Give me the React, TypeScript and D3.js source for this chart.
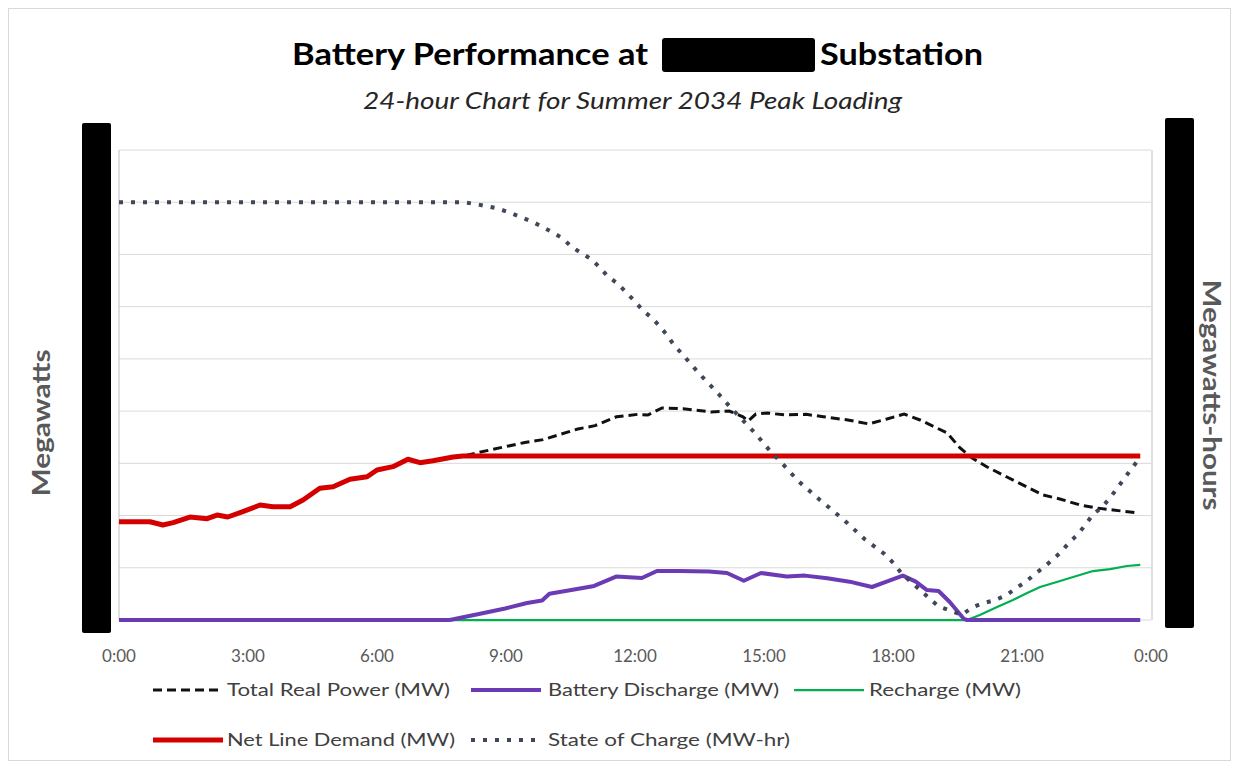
import React from 'react';
import * as d3 from 'd3';

// ---------- data ----------
const hourTicks = [0, 3, 6, 9, 12, 15, 18, 21, 24];
const hourTickLabels = ['0:00', '3:00', '6:00', '9:00', '12:00', '15:00', '18:00', '21:00', '0:00'];
const mwGridTicks = [0, 5, 10, 15, 20, 25, 30, 35, 40, 45];

// [hour, MW]
const totalRealPower: [number, number][] = [
  [0, 9.41], [0.72, 9.41], [1.02, 9.1], [1.26, 9.32], [1.65, 9.86], [2.05, 9.7], [2.28, 10.05],
  [2.53, 9.86], [2.88, 10.37], [3.28, 11.01], [3.58, 10.85], [3.98, 10.85], [4.28, 11.49],
  [4.67, 12.61], [4.98, 12.76], [5.37, 13.47], [5.77, 13.72], [6.0, 14.36], [6.37, 14.68],
  [6.72, 15.39], [7.0, 15.06], [7.3, 15.25], [7.77, 15.6], [8.0, 15.7], [8.63, 16.28],
  [9.44, 17.0], [9.86, 17.27], [10.26, 17.77], [10.67, 18.29], [11.07, 18.61], [11.57, 19.46],
  [12.06, 19.69], [12.3, 19.63], [12.63, 20.3], [13.12, 20.22], [13.77, 19.92], [14.19, 20.01],
  [14.51, 19.46], [14.63, 19.05], [14.81, 19.72], [15.07, 19.82], [15.49, 19.63], [15.98, 19.69],
  [16.38, 19.46], [16.95, 19.15], [17.44, 18.77], [17.86, 19.25], [18.26, 19.72], [18.63, 19.15],
  [19.02, 18.38], [19.26, 17.9], [19.56, 16.47], [19.84, 15.51], [20.19, 14.65], [20.65, 13.69],
  [21.12, 12.73], [21.49, 11.97], [21.88, 11.59], [22.35, 11.01], [22.74, 10.72], [23.12, 10.53],
  [23.7, 10.25],
];

const batteryDischarge: [number, number][] = [
  [0, 0], [7.69, 0], [8.37, 0.57], [8.98, 1.1], [9.49, 1.63], [9.84, 1.86], [10.01, 2.52],
  [10.62, 2.94], [11.05, 3.26], [11.56, 4.16], [12.16, 4.02], [12.51, 4.69], [13.02, 4.69],
  [13.72, 4.64], [14.14, 4.5], [14.53, 3.76], [14.93, 4.5], [15.53, 4.16], [15.95, 4.25],
  [16.47, 3.99], [16.99, 3.67], [17.51, 3.16], [17.85, 3.67], [18.23, 4.25], [18.53, 3.67],
  [18.79, 2.87], [19.06, 2.78], [19.32, 1.72], [19.65, 0.1], [19.72, 0], [23.75, 0],
];

const recharge: [number, number][] = [
  [0, 0], [19.72, 0], [20.02, 0.48], [20.42, 1.24], [20.79, 1.92], [21.12, 2.59], [21.42, 3.16],
  [21.81, 3.64], [22.19, 4.12], [22.65, 4.69], [23.05, 4.88], [23.44, 5.17], [23.75, 5.27],
];

const netLineDemand: [number, number][] = [
  [0, 9.41], [0.72, 9.41], [1.02, 9.1], [1.26, 9.32], [1.65, 9.86], [2.05, 9.7], [2.28, 10.05],
  [2.53, 9.86], [2.88, 10.37], [3.28, 11.01], [3.58, 10.85], [3.98, 10.85], [4.28, 11.49],
  [4.67, 12.61], [4.98, 12.76], [5.37, 13.47], [5.77, 13.72], [6.0, 14.36], [6.37, 14.68],
  [6.72, 15.39], [7.0, 15.06], [7.3, 15.25], [7.77, 15.6], [8.0, 15.7], [23.75, 15.7],
];

// [hour, MWh]
const stateOfCharge: [number, number][] = [
  [0, 40], [8.0, 40], [8.33, 39.8], [8.81, 39.4], [9.09, 39.0], [9.33, 38.6], [9.63, 38.1],
  [10.09, 37.1], [10.33, 36.5], [10.53, 35.7], [10.77, 35.1], [11.0, 34.5], [11.19, 33.7],
  [11.37, 32.9], [11.6, 32.2], [11.81, 31.3], [12.0, 30.5], [12.19, 29.6], [12.4, 28.9],
  [12.58, 28.1], [12.74, 27.3], [12.91, 26.3], [13.09, 25.5], [13.28, 24.6], [13.47, 23.7],
  [13.65, 22.9], [13.84, 22.1], [14.02, 21.3], [14.21, 20.4], [14.56, 18.9], [14.79, 17.9],
  [15.16, 16.1], [15.56, 14.4], [15.77, 13.4], [16.3, 11.5], [16.88, 9.5], [17.35, 7.7],
  [17.81, 6.3], [18.02, 5.4], [18.19, 4.5], [18.84, 2.1], [19.06, 1.3], [19.6, 0.5],
  [19.84, 1.2], [20.09, 1.6], [20.37, 1.9], [20.65, 2.4], [20.84, 3.0], [21.07, 3.6],
  [21.3, 4.4], [21.49, 5.0], [21.72, 5.8], [21.93, 6.6], [22.09, 7.4], [22.3, 8.2],
  [22.47, 9.1], [22.65, 10.1], [22.86, 10.8], [23.05, 11.7], [23.21, 12.6], [23.37, 13.5],
  [23.53, 14.4], [23.7, 15.3],
];

const legendLabels = [
  'Total Real Power (MW)',
  'Battery Discharge (MW)',
  'Recharge (MW)',
  'Net Line Demand (MW)',
  'State of Charge (MW-hr)',
];

// ---------- styles ----------
const FONT = 'Lato, "Open Sans", sans-serif';
const styles = [
  { color: '#111111', width: 3, dash: '9,5' },
  { color: '#6a3bb5', width: 4, dash: undefined },
  { color: '#00b050', width: 2.25, dash: undefined },
  { color: '#d40000', width: 5, dash: undefined },
  { color: '#3e4859', width: 4, dash: '4,8' },
];

export default function App() {
  const W = 1239;
  const H = 768;
  const left = 119;
  const right = 1151;
  const top = 150;
  const bottom = 620;

  const x = d3.scaleLinear().domain([0, 24]).range([left, right]);
  const yL = d3.scaleLinear().domain([0, 45]).range([bottom, top]);
  const yR = d3.scaleLinear().domain([0, 45]).range([bottom, top]);

  const lineL = d3
    .line<[number, number]>()
    .x((d) => x(d[0]))
    .y((d) => yL(d[1]))
    .curve(d3.curveLinear);
  const lineR = d3
    .line<[number, number]>()
    .x((d) => x(d[0]))
    .y((d) => yR(d[1]))
    .curve(d3.curveLinear);

  const legendItems = [
    { label: legendLabels[0], s: styles[0], x0: 153, tx: 227, ty: 690, tl: 223 },
    { label: legendLabels[1], s: styles[1], x0: 471, tx: 548, ty: 690, tl: 231 },
    { label: legendLabels[2], s: styles[2], x0: 794, tx: 869, ty: 690, tl: 152 },
    { label: legendLabels[3], s: styles[3], x0: 153, tx: 227, ty: 740, tl: 228 },
    { label: legendLabels[4], s: styles[4], x0: 471, tx: 548, ty: 740, tl: 242 },
  ];

  return (
    <svg
      width={W}
      height={H}
      style={{ position: 'absolute', left: 0, top: 0, background: '#ffffff' }}
      fontFamily={FONT}
    >
      <rect x={0} y={0} width={W} height={H} fill="#ffffff" />
      <rect x={8.5} y={8.5} width={1222} height={752} fill="none" stroke="#d9d9d9" strokeWidth={1} />

      {/* title */}
      <text x={292} y={65} fontSize={31} fontWeight={700} fill="#000" textLength={356} lengthAdjust="spacingAndGlyphs">
        Battery Performance at
      </text>
      <rect x={662} y={38} width={153} height={34} rx={3} fill="#000" />
      <text x={820} y={65} fontSize={31} fontWeight={700} fill="#000" textLength={163} lengthAdjust="spacingAndGlyphs">
        Substation
      </text>
      <text x={363} y={109} fontSize={23} fontStyle="italic" fill="#262626" textLength={539} lengthAdjust="spacingAndGlyphs">
        24-hour Chart for Summer 2034 Peak Loading
      </text>

      {/* gridlines */}
      {mwGridTicks.map((t) => (
        <line key={t} x1={left} x2={right} y1={yL(t)} y2={yL(t)} stroke="#d9d9d9" strokeWidth={1} />
      ))}
      <line x1={left} x2={left} y1={top} y2={bottom} stroke="#bfbfbf" strokeWidth={1} />
      <line x1={right + 1} x2={right + 1} y1={top} y2={bottom} stroke="#bfbfbf" strokeWidth={1} />

      {/* x tick labels */}
      {hourTicks.map((h, i) => (
        <text key={i} x={x(h)} y={662} fontSize={17} fill="#595959" textAnchor="middle">
          {hourTickLabels[i]}
        </text>
      ))}

      {/* series */}
      <path d={lineL(totalRealPower) || ''} fill="none" stroke={styles[0].color} strokeWidth={styles[0].width} strokeDasharray={styles[0].dash} />
      <path d={lineL(recharge) || ''} fill="none" stroke={styles[2].color} strokeWidth={styles[2].width} />
      <path d={lineL(batteryDischarge) || ''} fill="none" stroke={styles[1].color} strokeWidth={styles[1].width} strokeLinejoin="round" />
      <path d={lineL(netLineDemand) || ''} fill="none" stroke={styles[3].color} strokeWidth={styles[3].width} strokeLinejoin="round" />
      <path d={lineR(stateOfCharge) || ''} fill="none" stroke={styles[4].color} strokeWidth={styles[4].width} strokeDasharray={styles[4].dash} />

      {/* redaction bars over axis labels */}
      <rect x={82} y={123} width={29} height={510} rx={2} fill="#000" />
      <rect x={1165} y={118} width={29} height={510} rx={2} fill="#000" />

      {/* axis titles */}
      <text
        transform="translate(50,423) rotate(-90)"
        fontSize={24}
        fontWeight={700}
        fill="#595959"
        textAnchor="middle"
        textLength={147}
        lengthAdjust="spacingAndGlyphs"
      >
        Megawatts
      </text>
      <text
        transform="translate(1203,395) rotate(90)"
        fontSize={24}
        fontWeight={700}
        fill="#595959"
        textAnchor="middle"
        textLength={231}
        lengthAdjust="spacingAndGlyphs"
      >
        Megawatts-hours
      </text>

      {/* legend */}
      {legendItems.map((it, i) => (
        <g key={i}>
          <line
            x1={it.x0}
            x2={it.x0 + 70}
            y1={it.ty}
            y2={it.ty}
            stroke={it.s.color}
            strokeWidth={it.s.width}
            strokeDasharray={it.s.dash}
          />
          <text x={it.tx} y={it.ty + 6} fontSize={18} fill="#404040" textLength={it.tl} lengthAdjust="spacingAndGlyphs">
            {it.label}
          </text>
        </g>
      ))}
    </svg>
  );
}
